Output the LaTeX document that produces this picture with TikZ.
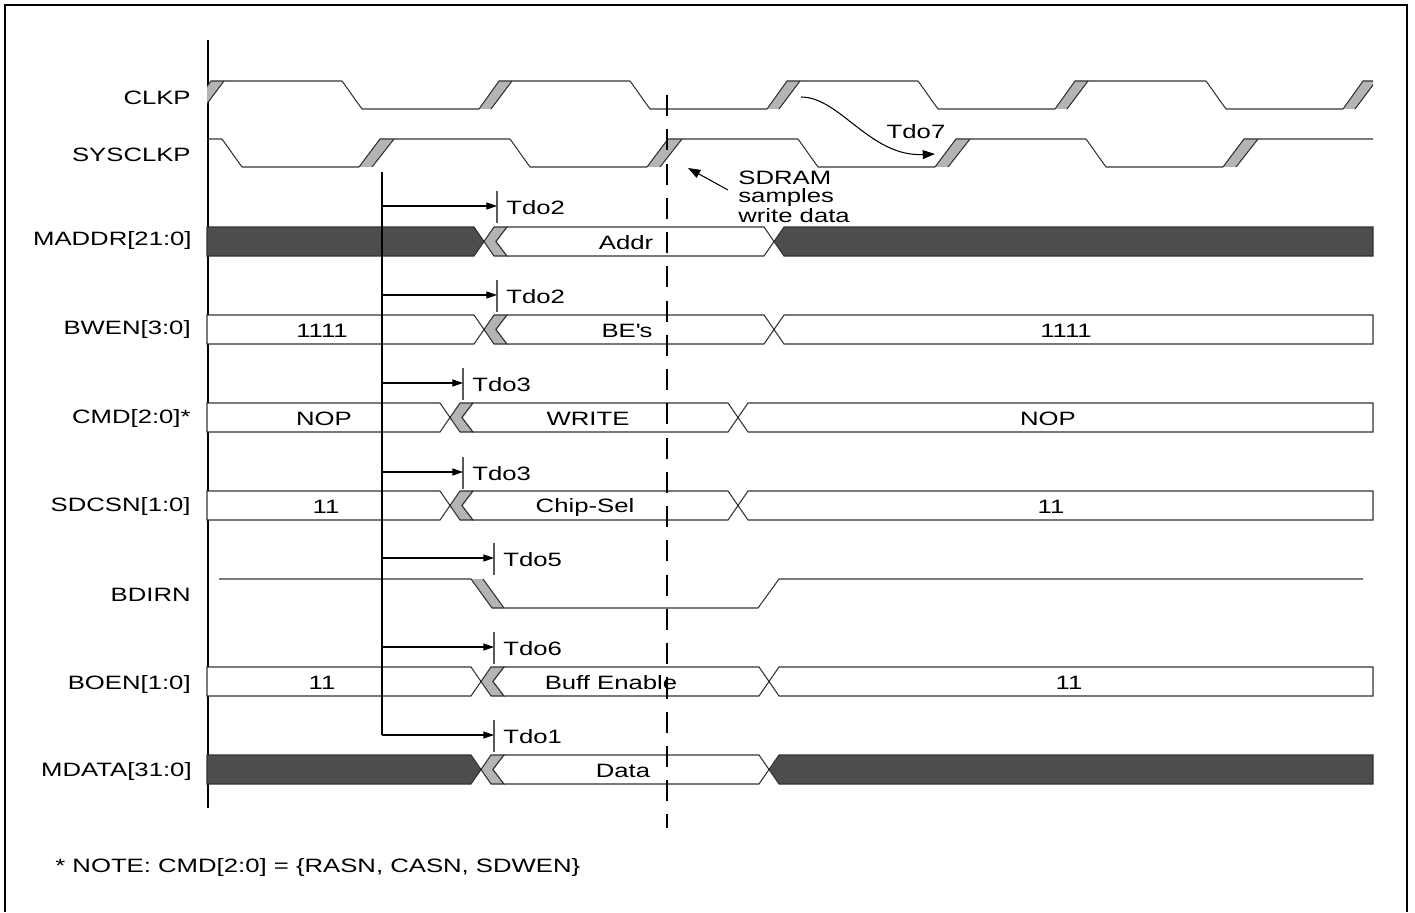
\documentclass[tikz,border=0pt]{standalone}
\usepackage{fontspec}
\setmainfont{Liberation Sans}[FakeStretch=1.33]
\usetikzlibrary{arrows.meta}
\definecolor{tdgray}{RGB}{180,180,180}
\definecolor{tddark}{RGB}{77,77,77}
\definecolor{tdline}{RGB}{50,50,50}
\newcommand{\sigfont}{\fontsize{11}{12}\selectfont}
% bus: #1 centre y, #2 first cross, #3 second cross, #4 left fill, #5 right fill
\newcommand{\busline}[5]{%
  \draw[busedge, fill=#4] (207,#1-14.5) -- ({#2-10},#1-14.5) -- (#2,#1) -- ({#2-10},#1+14.5) -- (207,#1+14.5) -- cycle;
  \draw[busedge, fill=tdgray] ({#2+10},#1-14.5) -- ({#2+23},#1-14.5) -- ({#2+12},#1) -- ({#2+23},#1+14.5) -- ({#2+10},#1+14.5) -- (#2,#1) -- cycle;
  \draw[busedge, fill=white] ({#2+23},#1-14.5) -- ({#3-10},#1-14.5) -- (#3,#1) -- ({#3-10},#1+14.5) -- ({#2+23},#1+14.5) -- ({#2+12},#1) -- cycle;
  \draw[busedge, fill=#5] ({#3+10},#1-14.5) -- (1373,#1-14.5) -- (1373,#1+14.5) -- ({#3+10},#1+14.5) -- (#3,#1) -- cycle;
}

\begin{document}
\begin{tikzpicture}[x=0.02cm, y=-0.02cm,
  wave/.style={draw=tdline, line width=0.6pt},
  busedge/.style={draw=tdline, line width=0.6pt},
  siglabel/.style={anchor=east, font=\sigfont, inner sep=0pt},
  buslabel/.style={font=\sigfont, inner sep=0pt},
  tdolabel/.style={anchor=west, font=\sigfont, inner sep=0pt},
  tdoarrow/.style={-{Triangle[length=6pt,width=4pt]}, line width=0.6pt},
  tick/.style={draw=black!65, line width=0.6pt}]

\useasboundingbox (0,0) rectangle (1415,912);
\draw[line width=1.3pt] (5,912) -- (5,5) -- (1407,5) -- (1407,912);

% time axis
\draw[line width=0.6pt] (208,40) -- (208,808);

% signal names
\node[siglabel] (lclkp) at (191,98) {CLKP};
\node[siglabel] (lsysclkp) at (191,155) {SYSCLKP};
\node[siglabel] (lmaddr) at (192,241) {MADDR[21:0]};
\node[siglabel] (lbwen) at (191,330) {BWEN[3:0]};
\node[siglabel] (lcmd) at (191,418) {CMD[2:0]*};
\node[siglabel] (lsdcsn) at (191,506) {SDCSN[1:0]};
\node[siglabel] (lbdirn) at (191,595) {BDIRN};
\node[siglabel] (lboen) at (191,684) {BOEN[1:0]};
\node[siglabel] (lmdata) at (192,771) {MDATA[31:0]};

% clocks
\begin{scope}
  \clip (207,60) rectangle (1373,180);
  \foreach \r in {191,479,767,1055,1343}{
    \fill[tdgray] (\r,109) -- (\r+20,81) -- (\r+33,81) -- (\r+12,109) -- cycle;
    \draw[wave] (\r+12,109) -- (\r+33,81);
    \draw[wave] (\r,109) -- (\r+20,81) -- (\r+151,81) -- (\r+171,109) -- (\r+288,109);
  }
  \foreach \r in {71,359,647,935,1223}{
    \fill[tdgray] (\r,167) -- (\r+21,139) -- (\r+35,139) -- (\r+13,167) -- cycle;
    \draw[wave] (\r+13,167) -- (\r+35,139);
    \draw[wave] (\r,167) -- (\r+21,139) -- (\r+151,139) -- (\r+171,167) -- (\r+288,167);
  }
\end{scope}

% buses
\busline{241.5}{484}{774}{tddark}{tddark}
\busline{329.5}{484}{774}{white}{white}
\busline{417.5}{450}{738}{white}{white}
\busline{505.5}{450}{738}{white}{white}
\busline{681.5}{481}{769}{white}{white}
\busline{769.5}{481}{769}{tddark}{tddark}

% BDIRN
\fill[tdgray] (471,579) -- (483,579) -- (504,608) -- (492,608) -- cycle;
\draw[wave] (483,579) -- (504,608);
\draw[wave] (219,579) -- (471,579) -- (492,608) -- (758,608) -- (779,579) -- (1363,579);

% bus values
\node[buslabel] (vaddr) at (626,243) {Addr};
\node[buslabel] (vbwen1) at (322,331) {1111};
\node[buslabel] (vbes) at (627,331) {BE\textquotesingle s};
\node[buslabel] (vbwen2) at (1066,331) {1111};
\node[buslabel] (vnop1) at (324,419) {NOP};
\node[buslabel] (vwrite) at (588,419) {WRITE};
\node[buslabel] (vnop2) at (1048,419) {NOP};
\node[buslabel] (vcs1) at (326,507) {11};
\node[buslabel] (vchip) at (585,507) {Chip-Sel};
\node[buslabel] (vcs2) at (1051,507) {11};
\node[buslabel] (voe1) at (322,683) {11};
\node[buslabel] (vbuff) at (611,683) {Buff Enable};
\node[buslabel] (voe2) at (1069,683) {11};
\node[buslabel] (vdata) at (623,771) {Data};

% output delays from SYSCLKP
\coordinate (vtop) at (382,172);
\foreach \ay/\tx/\tname [count=\i] in {206/497/Tdo2, 295/497/Tdo2, 383/463/Tdo3, 472/463/Tdo3, 558/494/Tdo5, 647/494/Tdo6, 735/494/Tdo1}{
  \coordinate (src\i) at (382,\ay);
  \coordinate (tk\i) at (\tx,\ay);
  \draw[tick] (\tx,\ay-15) -- (\tx,\ay+17);
  \node[tdolabel] (tdo\i) at (\tx+9,\ay+2) {\tname};
}
\draw[line width=0.6pt] (vtop) -- (src7);
\foreach \i in {1,...,7}{
  \draw[tdoarrow] (src\i) -- (tk\i);
}

% sample point
\draw[line width=1.1pt, dash pattern=on 12pt off 7.5pt] (667,95) -- (667,828);

\coordinate (t7a) at (801,97);
\coordinate (t7b) at (935,154);
\draw[-{Triangle[length=7pt,width=5pt]}, line width=0.6pt] (t7a) .. controls (840,97) and (870,157) .. (t7b);
\node[buslabel] (tdo7) at (916,132) {Tdo7};

\node[anchor=north west, font={\fontsize{11}{9.9}\selectfont}, inner sep=0pt, align=left] (sdram) at (738,171)
  {SDRAM\\samples\\write data};
\coordinate (smp) at (688,168);
\draw[-{Triangle[length=7pt,width=5pt]}, line width=0.6pt] (728,190) -- (smp);

\node[anchor=west, font=\sigfont, inner sep=0pt] (note) at (55,867)
  {* NOTE: CMD[2:0] = \{RASN, CASN, SDWEN\}};

\end{tikzpicture}
\end{document}
